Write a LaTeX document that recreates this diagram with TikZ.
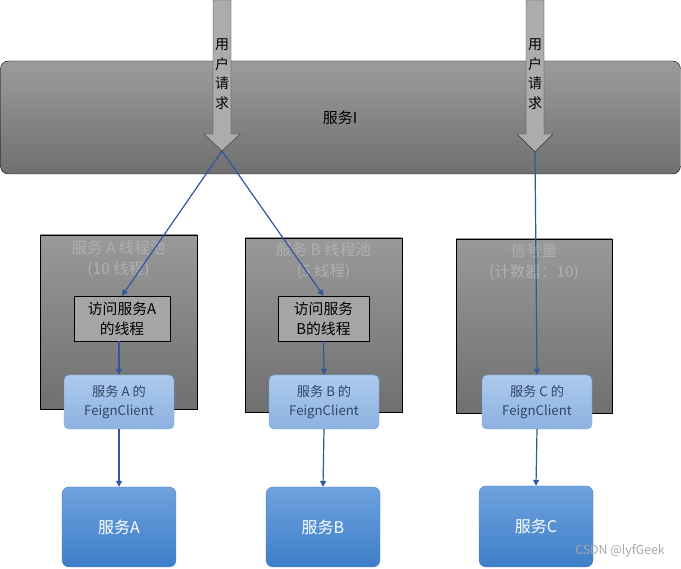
\documentclass[tikz,border=0pt]{standalone}
\usepackage{fontspec}
\setmainfont{Noto Sans CJK SC}
\usetikzlibrary{arrows.meta}
\definecolor{ln}{HTML}{3157A0}
\tikzset{
 every node/.style={font=\fontsize{15}{18}\selectfont},
 thr/.style={draw=black,fill=gray!70,align=center,inner sep=0pt,font=\fontsize{14.8}{20}\selectfont},
 feign/.style={draw={rgb,255:red,110;green,155;blue,215},rounded corners=5pt,top color={rgb,255:red,172;green,202;blue,238},bottom color={rgb,255:red,140;green,178;blue,224},text={rgb,255:red,50;green,70;blue,100},align=center,inner sep=0pt,font=\fontsize{13.2}{19}\selectfont},
 svc/.style={draw={rgb,255:red,80;green,130;blue,200},rounded corners=7pt,top color={rgb,255:red,110;green,162;blue,222},bottom color={rgb,255:red,62;green,126;blue,200},text=white,inner sep=0pt,font=\fontsize{16}{19}\selectfont},
 pooltxt/.style={text=gray!62,align=center,font=\fontsize{15.5}{21}\selectfont},
 conn/.style={draw=ln,line width=1.2pt,-{Triangle[length=6pt,width=6pt]}},
 fat/.style={draw=gray!40!black,fill=gray!65},
}
\begin{document}
\begin{tikzpicture}[x=1pt,y=-1pt]
\useasboundingbox (0,0) rectangle (681,569);
% service I
\node[draw=black,rounded corners=8pt,top color=gray!78,bottom color=gray!75!black!90,minimum width=680,minimum height=113,inner sep=0pt] (svcI) at (340.5,117.5) {};
\node at (340,118) (svcIt) {服务I};
% pools
\node[draw=black,top color=gray!80,bottom color=gray!75!black!90,minimum width=157,minimum height=174,inner sep=0pt] (pa) at (118.5,322) {};
\node[draw=black,top color=gray!80,bottom color=gray!75!black!90,minimum width=157,minimum height=174,inner sep=0pt] (pb) at (323.5,325) {};
\node[draw=black,top color=gray!80,bottom color=gray!75!black!90,minimum width=156,minimum height=174,inner sep=0pt] (pc) at (534,326) {};
\node[pooltxt] (pat) at (118.5,259) {服务 A 线程池\\(10 线程)};
\node[pooltxt] (pbt) at (323.5,261) {服务 B 线程池\\(5 线程)};
\node[pooltxt] (pct) at (534,262) {信号量\\(计数器：10)};
% threads
\node[thr,minimum width=96,minimum height=45] (ta) at (122,318.5) {访问服务A\\的线程};
\node[thr,minimum width=91,minimum height=45] (tb) at (323.5,318.5) {访问服务\\B的线程};
% feign
\node[feign,minimum width=110,minimum height=54] (fa) at (119,402) {服务 A 的\\FeignClient};
\node[feign,minimum width=110,minimum height=54] (fb) at (324,402) {服务 B 的\\FeignClient};
\node[feign,minimum width=110,minimum height=54] (fc) at (537,402) {服务 C 的\\FeignClient};
% services
\node[svc,minimum width=114,minimum height=80] (sa) at (119,527) {服务A};
\node[svc,minimum width=114,minimum height=80] (sb) at (323,527) {服务B};
\node[svc,minimum width=114,minimum height=81] (sc) at (536,526.5) {服务C};
% fat arrows
\draw[fat] (213,0) -- (231,0) -- (231,134) -- (240,134) -- (222,151) -- (204,134) -- (213,134) -- cycle;
\draw[fat] (526,0) -- (544,0) -- (544,134) -- (553,134) -- (535,152) -- (517,134) -- (526,134) -- cycle;
\coordinate (t1) at (222,151);
\coordinate (t2) at (535,152);
\node[align=center,font=\fontsize{14}{19.5}\selectfont] (u1) at (222,74) {用\\户\\请\\求};
\node[align=center,font=\fontsize{14}{19.5}\selectfont] (u2) at (535,74) {用\\户\\请\\求};
% connectors
\draw[conn] (t1) -- (ta.north);
\draw[conn] (t1) -- (tb.north);
\draw[conn] (t2) -- (fc.north);
\draw[conn] (ta.south -| fa.north) -- (fa.north);
\draw[conn] (tb.south) -- (fb.north);
\draw[conn] (fa.south) -- (sa.north);
\draw[conn] (fb.south) -- (sb.north);
\draw[conn] (fc.south) -- (sc.north);
\node[text=gray!70,font=\fontsize{12.3}{14}\selectfont] (wm) at (620,551) {CSDN @lyfGeek};
\end{tikzpicture}
\end{document}
